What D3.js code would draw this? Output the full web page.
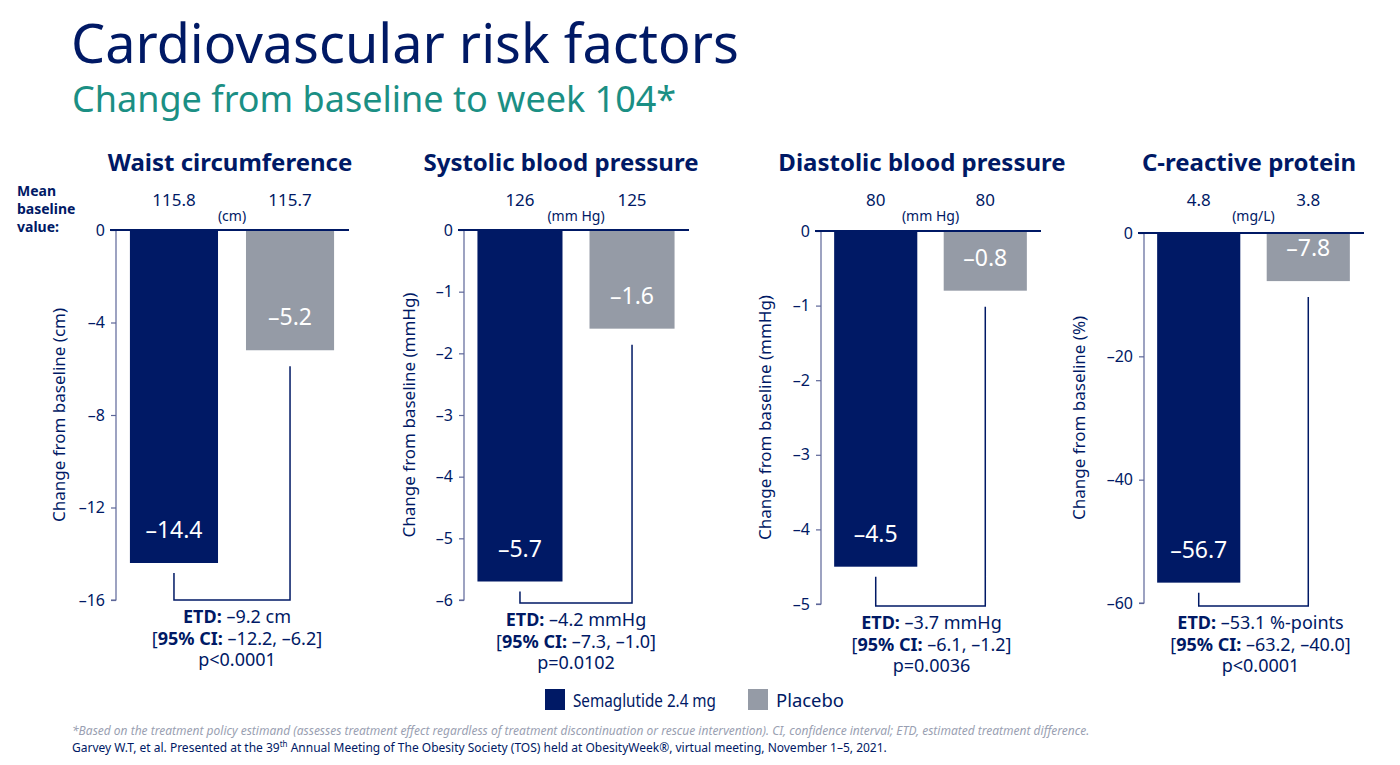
<!DOCTYPE html>
<html><head><meta charset="utf-8">
<script src="https://cdn.jsdelivr.net/npm/d3@7"></script>
<style>
html,body{margin:0;padding:0;background:#fff;}
svg{display:block;font-family:"Noto Sans",sans-serif;}
</style></head>
<body>
<svg id="chart" width="1400" height="765"></svg>
<script>
// ---------- DATA ----------
const panelTitles = ["Waist circumference", "Systolic blood pressure", "Diastolic blood pressure", "C-reactive protein"];
const units = ["(cm)", "(mm Hg)", "(mm Hg)", "(mg/L)"];
const yAxisTitles = ["Change from baseline (cm)", "Change from baseline (mmHg)", "Change from baseline (mmHg)", "Change from baseline (%)"];
const seriesNames = ["Semaglutide 2.4 mg", "Placebo"];
const semaglutideValues = [-14.4, -5.7, -4.5, -56.7];
const placeboValues = [-5.2, -1.6, -0.8, -7.8];
const baselineSemaglutide = ["115.8", "126", "80", "4.8"];
const baselinePlacebo = ["115.7", "125", "80", "3.8"];
const yMinValues = [-16, -6, -5, -60];
const yTickValues = [[0, -4, -8, -12, -16], [0, -1, -2, -3, -4, -5, -6], [0, -1, -2, -3, -4, -5], [0, -20, -40, -60]];
const etdValues = ["–9.2 cm", "–4.2 mmHg", "–3.7 mmHg", "–53.1 %-points"];
const ciValues = ["–12.2, –6.2", "–7.3, –1.0", "–6.1, –1.2", "–63.2, –40.0"];
const pValues = ["p<0.0001", "p=0.0102", "p=0.0036", "p<0.0001"];

// ---------- LAYOUT ----------
const NAVY = "#001965", GRAY = "#959ba6", TEAL = "#1b8f84", AXIS = "#5d6698";
const colors = [NAVY, GRAY];
const axisX = [116, 464, 821, 1144];
const panelW = [232, 224, 219, 219];
const zeroY = [230, 230, 231, 233];
const bottomY = [600, 600, 604, 603];
const bracketBottom = [600, 603, 606, 606];
const titleX = [230, 561, 922, 1249];
const yTitleOffset = [56, 54, 55, 64];
const etdShift = [5, 0, 1, 7];

const svg = d3.select("#chart");

svg.append("text").attr("x", 71).attr("y", 63).attr("fill", NAVY)
  .attr("font-size", 54).text("Cardiovascular risk factors");
svg.append("text").attr("x", 72).attr("y", 112).attr("fill", TEAL)
  .attr("font-size", 36).text("Change from baseline to week 104*");

// Mean baseline value label
const mb = svg.append("text").attr("fill", NAVY).attr("font-size", 14).attr("font-weight", "bold");
["Mean", "baseline", "value:"].forEach((t, i) => mb.append("tspan").attr("x", 17).attr("y", 196 + i * 18).text(t));

const fmt = v => String(v).replace("-", "–");

panelTitles.forEach((title, i) => {
  const g = svg.append("g");
  const x0 = axisX[i], W = panelW[i];
  const y = d3.scaleLinear().domain([0, yMinValues[i]]).range([zeroY[i], bottomY[i]]);
  const x = d3.scaleBand().domain(seriesNames).range([x0, x0 + W]).paddingInner(0.241).paddingOuter(0.12);
  const vals = [semaglutideValues[i], placeboValues[i]];

  // title
  g.append("text").attr("x", titleX[i]).attr("y", 171).attr("text-anchor", "middle")
    .attr("fill", NAVY).attr("font-size", 24).attr("font-weight", "bold").text(title);

  // baseline values
  [baselineSemaglutide[i], baselinePlacebo[i]].forEach((b, j) => {
    g.append("text").attr("x", x(seriesNames[j]) + x.bandwidth() / 2).attr("y", 206)
      .attr("text-anchor", "middle").attr("fill", NAVY).attr("font-size", 17).text(b);
  });
  g.append("text").attr("x", x0 + W / 2).attr("y", 221).attr("text-anchor", "middle")
    .attr("fill", NAVY).attr("font-size", 14).text(units[i]);

  // bars
  g.selectAll("rect.bar").data(vals).enter().append("rect")
    .attr("x", (d, j) => x(seriesNames[j])).attr("width", x.bandwidth())
    .attr("y", y(0)).attr("height", d => y(d) - y(0))
    .attr("fill", (d, j) => colors[j]);

  // value labels
  g.selectAll("text.val").data(vals).enter().append("text")
    .attr("x", (d, j) => x(seriesNames[j]) + x.bandwidth() / 2)
    .attr("y", d => y(d) - 25).attr("text-anchor", "middle")
    .attr("fill", "#fff").attr("font-size", 23).text(d => fmt(d));

  // y axis
  const axis = d3.axisLeft(y).tickValues(yTickValues[i]).tickSize(5).tickPadding(6).tickFormat(fmt);
  const ag = g.append("g").attr("transform", `translate(${x0},0)`).call(axis);
  ag.select(".domain").attr("stroke", AXIS).attr("stroke-width", 1.2).attr("d", `M-5,${y(yMinValues[i])}H0V${y(0)}`);
  ag.selectAll(".tick line").attr("stroke", AXIS).attr("stroke-width", 1.2);
  ag.selectAll(".tick text").attr("fill", NAVY).attr("font-size", 16).attr("font-family", "Noto Sans");

  // zero line
  g.append("line").attr("x1", x0 - 6).attr("x2", x0 + W + 1).attr("y1", y(0)).attr("y2", y(0))
    .attr("stroke", NAVY).attr("stroke-width", 2);

  // y axis title
  const ty = (y(0) + y(yMinValues[i])) / 2;
  g.append("text").attr("transform", `translate(${x0 - yTitleOffset[i]},${ty}) rotate(-90)`)
    .attr("text-anchor", "middle").attr("dominant-baseline", "middle")
    .attr("fill", NAVY).attr("font-size", 17).text(yAxisTitles[i]);

  // bracket
  const lx = x(seriesNames[0]) + x.bandwidth() / 2;
  const rx = x(seriesNames[1]) + x.bandwidth() / 2;
  const by = bracketBottom[i];
  g.append("path").attr("fill", "none").attr("stroke", NAVY).attr("stroke-width", 1.5)
    .attr("d", `M${lx},${y(vals[0]) + 10}V${by}H${rx}V${y(vals[1]) + 16}`);

  // ETD text
  const cx = (lx + rx) / 2 + etdShift[i];
  const t1 = g.append("text").attr("x", cx).attr("y", by + 23).attr("text-anchor", "middle").attr("fill", NAVY).attr("font-size", 18);
  t1.append("tspan").attr("font-weight", "bold").text("ETD:");
  t1.append("tspan").text(" " + etdValues[i]);
  const t2 = g.append("text").attr("x", cx).attr("y", by + 44.5).attr("text-anchor", "middle").attr("fill", NAVY).attr("font-size", 18);
  t2.append("tspan").text("[");
  t2.append("tspan").attr("font-weight", "bold").text("95% CI:");
  t2.append("tspan").text(" " + ciValues[i] + "]");
  g.append("text").attr("x", cx).attr("y", by + 66).attr("text-anchor", "middle").attr("fill", NAVY).attr("font-size", 18).text(pValues[i]);
});

// legend
const legendX = [545, 748];
const legendTextW = [143, 68];
seriesNames.forEach((s, j) => {
  svg.append("rect").attr("x", legendX[j]).attr("y", 689).attr("width", 20).attr("height", 21).attr("fill", colors[j]);
  svg.append("text").attr("x", legendX[j] + 28).attr("y", 707).attr("fill", NAVY).attr("font-size", 18)
    .attr("textLength", legendTextW[j]).attr("lengthAdjust", "spacingAndGlyphs").text(s);
});

// footnotes
svg.append("text").attr("x", 72).attr("y", 735).attr("fill", "#9a9fb2").attr("font-size", 12).attr("font-style", "italic")
  .text("*Based on the treatment policy estimand (assesses treatment effect regardless of treatment discontinuation or rescue intervention). CI, confidence interval; ETD, estimated treatment difference.");
const f2 = svg.append("text").attr("x", 72).attr("y", 752).attr("fill", NAVY).attr("font-size", 12);
f2.append("tspan").text("Garvey W.T, et al. Presented at the 39");
f2.append("tspan").attr("font-size", 8).attr("dy", -5).text("th");
f2.append("tspan").attr("dy", 5).text(" Annual Meeting of The Obesity Society (TOS) held at ObesityWeek®, virtual meeting, November 1–5, 2021.");
</script>
</body></html>
